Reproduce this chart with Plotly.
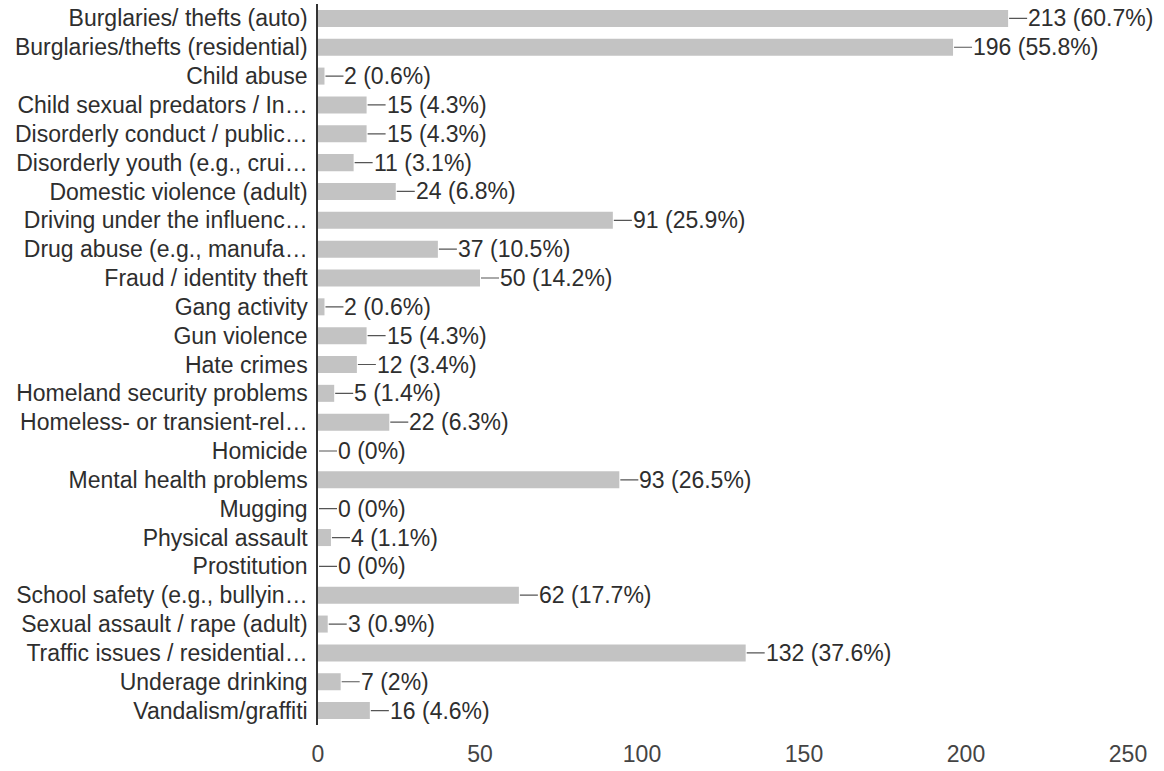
import plotly.graph_objects as go

categories = [
    "Burglaries/ thefts (auto)",
    "Burglaries/thefts (residential)",
    "Child abuse",
    "Child sexual predators / In…",
    "Disorderly conduct / public…",
    "Disorderly youth (e.g., crui…",
    "Domestic violence (adult)",
    "Driving under the influenc…",
    "Drug abuse (e.g., manufa…",
    "Fraud / identity theft",
    "Gang activity",
    "Gun violence",
    "Hate crimes",
    "Homeland security problems",
    "Homeless- or transient-rel…",
    "Homicide",
    "Mental health problems",
    "Mugging",
    "Physical assault",
    "Prostitution",
    "School safety (e.g., bullyin…",
    "Sexual assault / rape (adult)",
    "Traffic issues / residential…",
    "Underage drinking",
    "Vandalism/graffiti",
]
counts = [213, 196, 2, 15, 15, 11, 24, 91, 37, 50, 2, 15, 12, 5, 22, 0, 93, 0, 4, 0, 62, 3, 132, 7, 16]
percents = ["60.7%", "55.8%", "0.6%", "4.3%", "4.3%", "3.1%", "6.8%", "25.9%", "10.5%", "14.2%",
            "0.6%", "4.3%", "3.4%", "1.4%", "6.3%", "0%", "26.5%", "0%", "1.1%", "0%",
            "17.7%", "0.9%", "37.6%", "2%", "4.6%"]
x_ticks = [0, 50, 100, 150, 200, 250]

FONT = "Liberation Sans, Arial, sans-serif"
TEXT_COLOR = "#2e2e2e"
FONT_SIZE = 23

fig = go.Figure(
    go.Bar(
        x=counts,
        y=categories,
        orientation="h",
        marker=dict(color="#c3c3c3", line=dict(width=0)),
        hoverinfo="x+y",
    )
)

# value labels with a short leader line from the end of each bar
for cat, n, pct in zip(categories, counts, percents):
    fig.add_annotation(
        x=n, y=cat, xref="x", yref="y",
        text=f"{n} ({pct})",
        showarrow=True, arrowhead=0, arrowwidth=1.2, arrowcolor="#555555",
        ax=19, ay=0, standoff=1,
        xanchor="left", yanchor="middle",
        borderpad=0,
        font=dict(family=FONT, size=FONT_SIZE, color=TEXT_COLOR),
    )

fig.update_layout(
    width=1164, height=771,
    margin=dict(l=318, r=36, t=4, b=40),
    paper_bgcolor="white", plot_bgcolor="white",
    bargap=0.41,
    showlegend=False,
    font=dict(family=FONT, size=FONT_SIZE, color=TEXT_COLOR),
)
fig.update_xaxes(
    range=[0, 250], tickvals=x_ticks, showgrid=False, zeroline=False,
    showline=False, ticks="", ticklabelstandoff=13,
    tickfont=dict(family=FONT, size=FONT_SIZE, color="#444444"),
)
fig.update_yaxes(
    autorange="reversed", showgrid=False, zeroline=False,
    showline=True, linecolor="#333333", linewidth=1.5, ticks="",
    ticklabelstandoff=4,
    tickfont=dict(family=FONT, size=FONT_SIZE, color=TEXT_COLOR),
)

fig.write_html("out.html")
